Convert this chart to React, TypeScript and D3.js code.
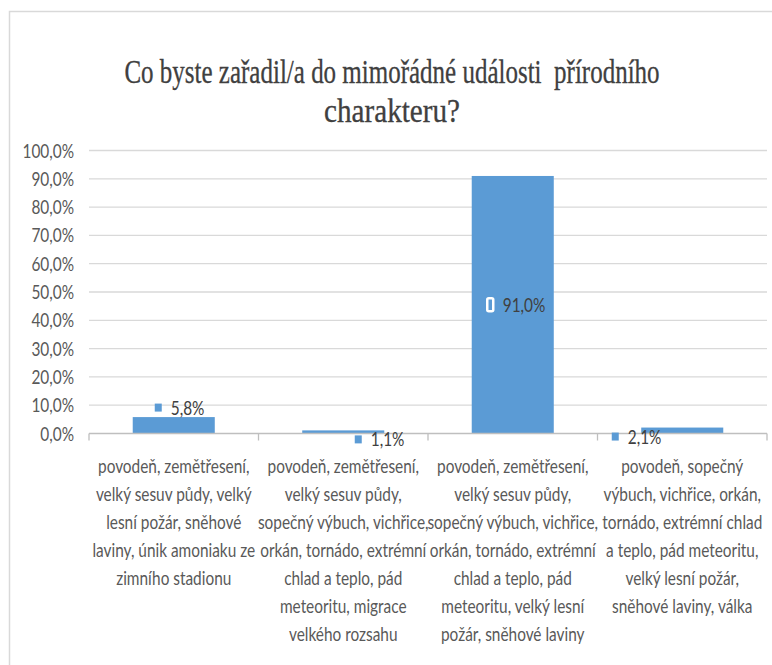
import React, { useLayoutEffect, useRef, useState } from "react";
import * as d3 from "d3";

const titleLines = ["Co byste zařadil/a do mimořádné události  přírodního", "charakteru?"];
const categories = [
  "povodeň, zemětřesení,\nvelký sesuv půdy, velký\nlesní požár, sněhové\nlaviny, únik amoniaku ze\nzimního stadionu",
  "povodeň, zemětřesení,\nvelký sesuv půdy,\nsopečný výbuch, vichřice,\norkán, tornádo, extrémní\nchlad a teplo, pád\nmeteoritu, migrace\nvelkého rozsahu",
  "povodeň, zemětřesení,\nvelký sesuv půdy,\nsopečný výbuch, vichřice,\norkán, tornádo, extrémní\nchlad a teplo, pád\nmeteoritu, velký lesní\npožár, sněhové laviny",
  "povodeň, sopečný\nvýbuch, vichřice, orkán,\ntornádo, extrémní chlad\na teplo, pád meteoritu,\nvelký lesní požár,\nsněhové laviny, válka",
];
const values = [5.8, 1.1, 91.0, 2.1];
const yTicks = [0, 10, 20, 30, 40, 50, 60, 70, 80, 90, 100];

// label placement styling (Excel data labels were moved by hand)
const labelPlace = ["above", "below", "center", "below"];
const labelMarkerDx = [-19, 11.5, -27, -70.5];

const W = 772;
const H = 665;
const BLUE = "#5b9bd5";
const NX = 0.77;
const FONT = "Lato, 'Open Sans', sans-serif";
const TITLE_WIDTHS = [535, 136];

const cz = d3.formatLocale({ decimal: ",", thousands: " ", grouping: [3], currency: ["", " Kč"] });
const fmt = (v: number) => cz.format(".1f")(v) + "%";

function CText(props: { x: number; y: number; anchor?: string; size?: number; fill?: string; children: any }) {
  const { x, y, anchor = "middle", size = 20, fill = "#595959", children } = props;
  return (
    <text
      transform={`translate(${x},${y}) scale(${NX},1)`}
      textAnchor={anchor}
      fontSize={size}
      fill={fill}
      fontFamily={FONT}
      dy="0.35em"
    >
      {children}
    </text>
  );
}

function TitleLine(props: { text: string; x: number; y: number; width: number }) {
  const ref = useRef<SVGTextElement>(null);
  const [sx, setSx] = useState(0.78);
  useLayoutEffect(() => {
    if (ref.current) {
      const w = ref.current.getComputedTextLength();
      if (w > 0) setSx(props.width / w);
    }
  }, [props.text, props.width]);
  return (
    <text
      ref={ref}
      transform={`translate(${props.x},${props.y}) scale(${sx},1)`}
      textAnchor="middle"
      fontFamily="'Liberation Serif', 'DejaVu Serif', serif"
      fontSize={33}
      fill="#404040"
      stroke="#404040"
      strokeWidth={0.3}
      style={{ whiteSpace: "pre" }}
    >
      {props.text}
    </text>
  );
}

export default function App() {
  const left = 89;
  const right = 767;
  const x = d3
    .scaleBand<number>()
    .domain(values.map((_, i) => i))
    .range([left, right])
    .paddingInner(0.516)
    .paddingOuter(0.258);
  const xCat = d3.scaleBand<number>().domain(values.map((_, i) => i)).range([left, right]).padding(0);
  const y = d3.scaleLinear().domain([0, 100]).range([433.5, 150.5]);

  const tickXs = [...values.map((_, i) => xCat(i)!), right];

  return (
    <svg
      width={W}
      height={H}
      style={{ position: "absolute", left: 0, top: 0, background: "#fff" }}
    >
      <rect x={0} y={0} width={W} height={H} fill="#fff" />
      <rect x={9.5} y={11.5} width={W + 20} height={H + 20} fill="none" stroke="#d9d9d9" strokeWidth={1.5} />

      {titleLines.map((t, i) => (
        <TitleLine key={i} text={t} x={392} y={83 + i * 39} width={TITLE_WIDTHS[i]} />
      ))}

      {/* gridlines */}
      {yTicks.filter((t) => t > 0).map((t) => (
        <line key={t} x1={left} x2={right} y1={y(t)} y2={y(t)} stroke="#d9d9d9" strokeWidth={1.3} />
      ))}

      {/* y labels */}
      {yTicks.map((t) => (
        <CText key={t} x={74} y={y(t)} anchor="end">
          {fmt(t)}
        </CText>
      ))}

      {/* bars */}
      {values.map((v, i) => (
        <rect key={i} x={x(i)!} y={y(v)} width={x.bandwidth()} height={y(0) - y(v)} fill={BLUE} />
      ))}

      {/* x axis */}
      <line x1={left} x2={right} y1={y(0)} y2={y(0)} stroke="#bfbfbf" strokeWidth={1.3} />
      {tickXs.map((tx, i) => (
        <line key={i} x1={tx} x2={tx} y1={y(0)} y2={y(0) + 7} stroke="#bfbfbf" strokeWidth={1.3} />
      ))}

      {/* data labels */}
      {values.map((v, i) => {
        const cx = x(i)! + x.bandwidth() / 2;
        const place = labelPlace[i];
        const cy = place === "above" ? y(v) - 9.5 : place === "below" ? y(v) + 9 : (y(v) + y(0)) / 2;
        const mx = cx + labelMarkerDx[i];
        const center = place === "center";
        return (
          <g key={i}>
            {center ? (
              <rect x={mx + 1.5} y={cy - 6.5} width={6} height={13} rx={1.5} fill={BLUE} stroke="#fff" strokeWidth={2.5} />
            ) : (
              <rect x={mx} y={cy - 4} width={7} height={8} fill={BLUE} />
            )}
            <CText x={mx + (center ? 17 : 16)} y={cy} anchor="start" fill="#404040">
              {fmt(v)}
            </CText>
          </g>
        );
      })}

      {/* category labels */}
      {categories.map((c, i) => {
        const cx = xCat(i)! + xCat.bandwidth() / 2;
        return c.split("\n").map((line, j) => (
          <CText key={`${i}-${j}`} x={cx} y={466 + j * 28}>
            {line}
          </CText>
        ));
      })}
    </svg>
  );
}
